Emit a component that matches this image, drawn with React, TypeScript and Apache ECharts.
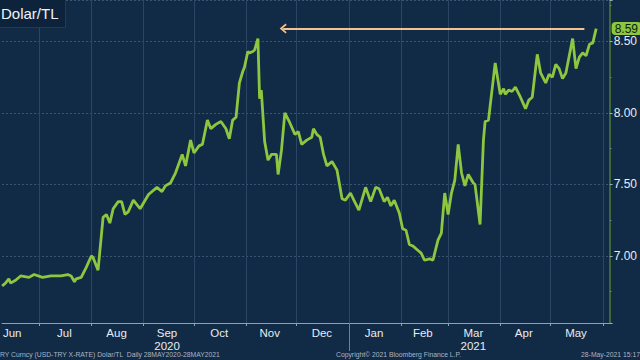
import React, { useEffect, useRef } from "react";
import * as echarts from "echarts";

// ---- axis range (calendar days shown on the category axis) ----
const axisStart = "2020-06-09";
const axisEnd = "2021-06-05";

// ---- USD/TRY series ----
const dates: string[] = [
  "2020-06-09", "2020-06-11", "2020-06-13", "2020-06-14", "2020-06-17", "2020-06-20",
  "2020-06-25", "2020-06-28", "2020-07-03", "2020-07-08", "2020-07-14", "2020-07-18",
  "2020-07-20", "2020-07-22", "2020-07-23", "2020-07-26", "2020-07-29", "2020-08-01",
  "2020-08-02", "2020-08-05", "2020-08-08", "2020-08-10", "2020-08-12", "2020-08-14",
  "2020-08-17", "2020-08-19", "2020-08-21", "2020-08-23", "2020-08-26", "2020-08-30",
  "2020-09-04", "2020-09-09", "2020-09-12", "2020-09-14", "2020-09-17", "2020-09-20",
  "2020-09-24", "2020-09-26", "2020-09-29", "2020-10-01", "2020-10-04", "2020-10-06",
  "2020-10-09", "2020-10-11", "2020-10-14", "2020-10-17", "2020-10-20", "2020-10-22",
  "2020-10-24", "2020-10-26", "2020-10-28", "2020-10-30", "2020-10-31", "2020-11-02",
  "2020-11-03", "2020-11-05", "2020-11-06", "2020-11-08", "2020-11-09", "2020-11-10",
  "2020-11-12", "2020-11-14", "2020-11-16", "2020-11-19", "2020-11-20", "2020-11-22",
  "2020-11-24", "2020-11-27", "2020-11-30", "2020-12-02", "2020-12-04", "2020-12-07",
  "2020-12-10", "2020-12-11", "2020-12-13", "2020-12-15", "2020-12-17", "2020-12-19",
  "2020-12-22", "2020-12-25", "2020-12-28", "2020-12-30", "2021-01-02", "2021-01-04",
  "2021-01-07", "2021-01-11", "2021-01-14", "2021-01-17", "2021-01-19", "2021-01-22",
  "2021-01-24", "2021-01-26", "2021-01-28", "2021-01-31", "2021-02-02", "2021-02-04",
  "2021-02-06", "2021-02-08", "2021-02-11", "2021-02-13", "2021-02-15", "2021-02-18",
  "2021-02-20", "2021-02-23", "2021-02-25", "2021-02-27", "2021-03-01", "2021-03-03",
  "2021-03-05", "2021-03-07", "2021-03-09", "2021-03-11", "2021-03-13", "2021-03-16",
  "2021-03-17", "2021-03-20", "2021-03-22", "2021-03-23", "2021-03-25", "2021-03-29",
  "2021-04-01", "2021-04-03", "2021-04-04", "2021-04-06", "2021-04-08", "2021-04-10",
  "2021-04-13", "2021-04-16", "2021-04-18", "2021-04-20", "2021-04-23", "2021-04-25",
  "2021-04-28", "2021-04-30", "2021-05-02", "2021-05-04", "2021-05-06", "2021-05-08",
  "2021-05-10", "2021-05-14", "2021-05-16", "2021-05-18", "2021-05-20", "2021-05-22",
  "2021-05-24", "2021-05-26", "2021-05-28"
];

const values: number[] = [
  6.79, 6.81, 6.84, 6.81, 6.83, 6.86,
  6.85, 6.87, 6.85, 6.86, 6.86, 6.87,
  6.86, 6.82, 6.84, 6.85, 6.92, 7.0,
  6.99, 6.9, 7.27, 7.29, 7.23, 7.33,
  7.38, 7.38, 7.29, 7.31, 7.39, 7.33,
  7.43, 7.48, 7.45, 7.49, 7.51, 7.58,
  7.71, 7.63, 7.81, 7.72, 7.77, 7.78,
  7.95, 7.89, 7.92, 7.94, 7.89, 7.82,
  7.95, 7.97, 8.21, 8.29, 8.32, 8.43,
  8.42, 8.43, 8.44, 8.52, 8.1, 8.16,
  7.8, 7.67, 7.71, 7.71, 7.57, 7.74,
  8.0, 7.93, 7.85, 7.87, 7.78, 7.81,
  7.83, 7.89, 7.85, 7.83, 7.71, 7.63,
  7.66, 7.6, 7.4, 7.39, 7.44, 7.39,
  7.32, 7.48, 7.38, 7.48, 7.47, 7.38,
  7.41, 7.35, 7.39, 7.3, 7.19, 7.18,
  7.08, 7.07, 7.04, 7.02, 6.97, 6.98,
  6.97, 7.11, 7.16, 7.44, 7.29, 7.44,
  7.53, 7.78, 7.58, 7.49, 7.57, 7.51,
  7.5, 7.22, 7.81, 7.94, 7.95, 8.35,
  8.13, 8.17, 8.13, 8.16, 8.15, 8.18,
  8.11, 8.03, 8.09, 8.11, 8.41, 8.28,
  8.21, 8.27, 8.25, 8.34, 8.31, 8.24,
  8.28, 8.52, 8.31, 8.39, 8.42, 8.4,
  8.48, 8.49, 8.59
];

// ---- annotations ----
const lastValue = 8.59;
const arrowFrom = "2020-11-23";
const arrowTo = "2021-05-21";

// ---- labels ----
const monthNames = ["Jan", "Feb", "Mar", "Apr", "May", "Jun", "Jul", "Aug", "Sep", "Oct", "Nov", "Dec"];
const yearRowLabels: Record<string, string> = { "2020-09": "2020", "2021-03": "2021" };
const legendText = "Dolar/TL";
const footerLeft = "RY Curncy (USD-TRY X-RATE) Dolar/TL  Daily 28MAY2020-28MAY2021";
const footerMid = "Copyright\u00a9 2021 Bloomberg Finance L.P.";
const footerRight = "28-May-2021 15:17";

function dayList(start: string, end: string): string[] {
  const out: string[] = [];
  const d = new Date(start + "T00:00:00Z");
  const e = new Date(end + "T00:00:00Z");
  while (d.getTime() <= e.getTime()) {
    out.push(d.toISOString().slice(0, 10));
    d.setUTCDate(d.getUTCDate() + 1);
  }
  return out;
}

function parts(v: string) {
  return { y: parseInt(v.slice(0, 4), 10), m: parseInt(v.slice(5, 7), 10), d: parseInt(v.slice(8, 10), 10) };
}
const isMonthStart = (_i: number, v: string) => parts(v).d === 1;
const isYearStart = (_i: number, v: string) => {
  const p = parts(v);
  return p.m === 1 && p.d === 1;
};
const isMidMonth = (_i: number, v: string) => {
  const p = parts(v);
  const dim = new Date(Date.UTC(p.y, p.m, 0)).getUTCDate();
  return p.d === Math.ceil(dim / 2);
};

const FONT = "Liberation Sans, Arial, sans-serif";
const LABEL_COLOR = "#e8edf2";

export default function App() {
  const ref = useRef<HTMLDivElement>(null);

  useEffect(() => {
    if (!ref.current) return;
    const chart = echarts.init(ref.current, null, { renderer: "svg" });
    const cats = dayList(axisStart, axisEnd);
    const seriesData = dates.map((d, i) => [d, values[i]]);

    chart.setOption({
      animation: false,
      backgroundColor: "#112a46",
      textStyle: { fontFamily: FONT },
      title: {
        text: legendText,
        left: -1,
        top: -1,
        padding: [7, 7, 7, 2],
        backgroundColor: "#0d233c",
        borderColor: "#1f3b5a",
        borderWidth: 1,
        textStyle: { color: "#f0f3f7", fontSize: 15, fontWeight: "normal", fontFamily: FONT },
      },
      grid: { left: 0, right: 27, top: 0, bottom: 37, containLabel: false },
      xAxis: [
        {
          type: "category",
          data: cats,
          boundaryGap: false,
          axisLine: { show: true, lineStyle: { color: "#8fa0b5", width: 1 } },
          axisTick: { show: true, interval: isMonthStart, length: 3, lineStyle: { color: "#8fa0b5" } },
          axisLabel: {
            interval: isMidMonth,
            margin: 3,
            formatter: (v: string) => {
              const p = parts(v);
              const yr = yearRowLabels[v.slice(0, 7)];
              return "{m|" + monthNames[p.m - 1] + "}" + (yr ? "\n{y|" + yr + "}" : "");
            },
            rich: {
              m: { color: LABEL_COLOR, fontSize: 11.5, lineHeight: 13, fontFamily: FONT },
              y: { color: LABEL_COLOR, fontSize: 11.5, lineHeight: 13, fontFamily: FONT },
            },
          },
          splitLine: { show: true, interval: isMonthStart, lineStyle: { color: "#2b4664", width: 1 } },
        },
        {
          type: "category",
          data: cats,
          boundaryGap: false,
          position: "bottom",
          axisLine: { show: false },
          axisLabel: { show: false },
          splitLine: { show: false },
          axisTick: { show: true, interval: isYearStart, length: 28, lineStyle: { color: "#6c8098" } },
        },
      ],
      yAxis: {
        type: "value",
        position: "right",
        min: 6.531,
        max: 8.79,
        axisLine: { show: true, lineStyle: { color: "#4f7d36", width: 1.5 } },
        axisTick: { show: true, length: 3, lineStyle: { color: "#9aa8b8" } },
        minorTick: { show: true, splitNumber: 2, length: 2, lineStyle: { color: "#5f7590" } },
        axisLabel: {
          color: LABEL_COLOR,
          fontSize: 12,
          margin: 4,
          fontFamily: FONT,
          showMinLabel: false,
          showMaxLabel: false,
          formatter: (v: number) => v.toFixed(2),
        },
        splitLine: { show: true, lineStyle: { color: "#3b5777", type: [2, 2], width: 1 } },
      },
      series: [
        {
          name: legendText,
          type: "line",
          xAxisIndex: 0,
          data: seriesData,
          showSymbol: false,
          symbol: "none",
          lineStyle: { color: "#8dc63f", width: 2.8 },
          z: 3,
          markLine: {
            silent: true,
            symbol: "none",
            animation: false,
            data: [
              {
                yAxis: lastValue,
                lineStyle: { color: "rgba(0,0,0,0)", width: 0 },
                label: {
                  show: true,
                  position: "end",
                  distance: 2,
                  formatter: lastValue.toFixed(2),
                  backgroundColor: "#8dc63f",
                  color: "#0b1f0e",
                  fontSize: 12,
                  fontFamily: FONT,
                  padding: [1, 4, 0, 3],
                  borderRadius: 4,
                },
              },
              [
                {
                  coord: [arrowFrom, lastValue],
                  symbol: "path://M5,0 L10,7 L8.6,8.2 L5,3.2 L1.4,8.2 L0,7 Z",
                  symbolSize: [10, 7],
                  lineStyle: { color: "#f3c28e", width: 2, type: "solid", opacity: 1 },
                  label: { show: false },
                },
                { coord: [arrowTo, lastValue], symbol: "none" },
              ],
            ],
          },
        },
      ],
      graphic: [
        {
          type: "text",
          left: 0,
          top: 351,
          style: { text: footerLeft, fill: "#aab5c3", fontSize: 6.8, fontFamily: FONT },
        },
        {
          type: "text",
          left: 336,
          top: 351,
          style: { text: footerMid, fill: "#aab5c3", fontSize: 6.8, fontFamily: FONT },
        },
        {
          type: "text",
          right: 0,
          top: 351,
          style: { text: footerRight, fill: "#aab5c3", fontSize: 6.8, fontFamily: FONT },
        },
      ],
    });

    return () => chart.dispose();
  }, []);

  return (
    <div
      ref={ref}
      style={{ position: "fixed", left: 0, top: 0, width: 640, height: 360 }}
    />
  );
}
